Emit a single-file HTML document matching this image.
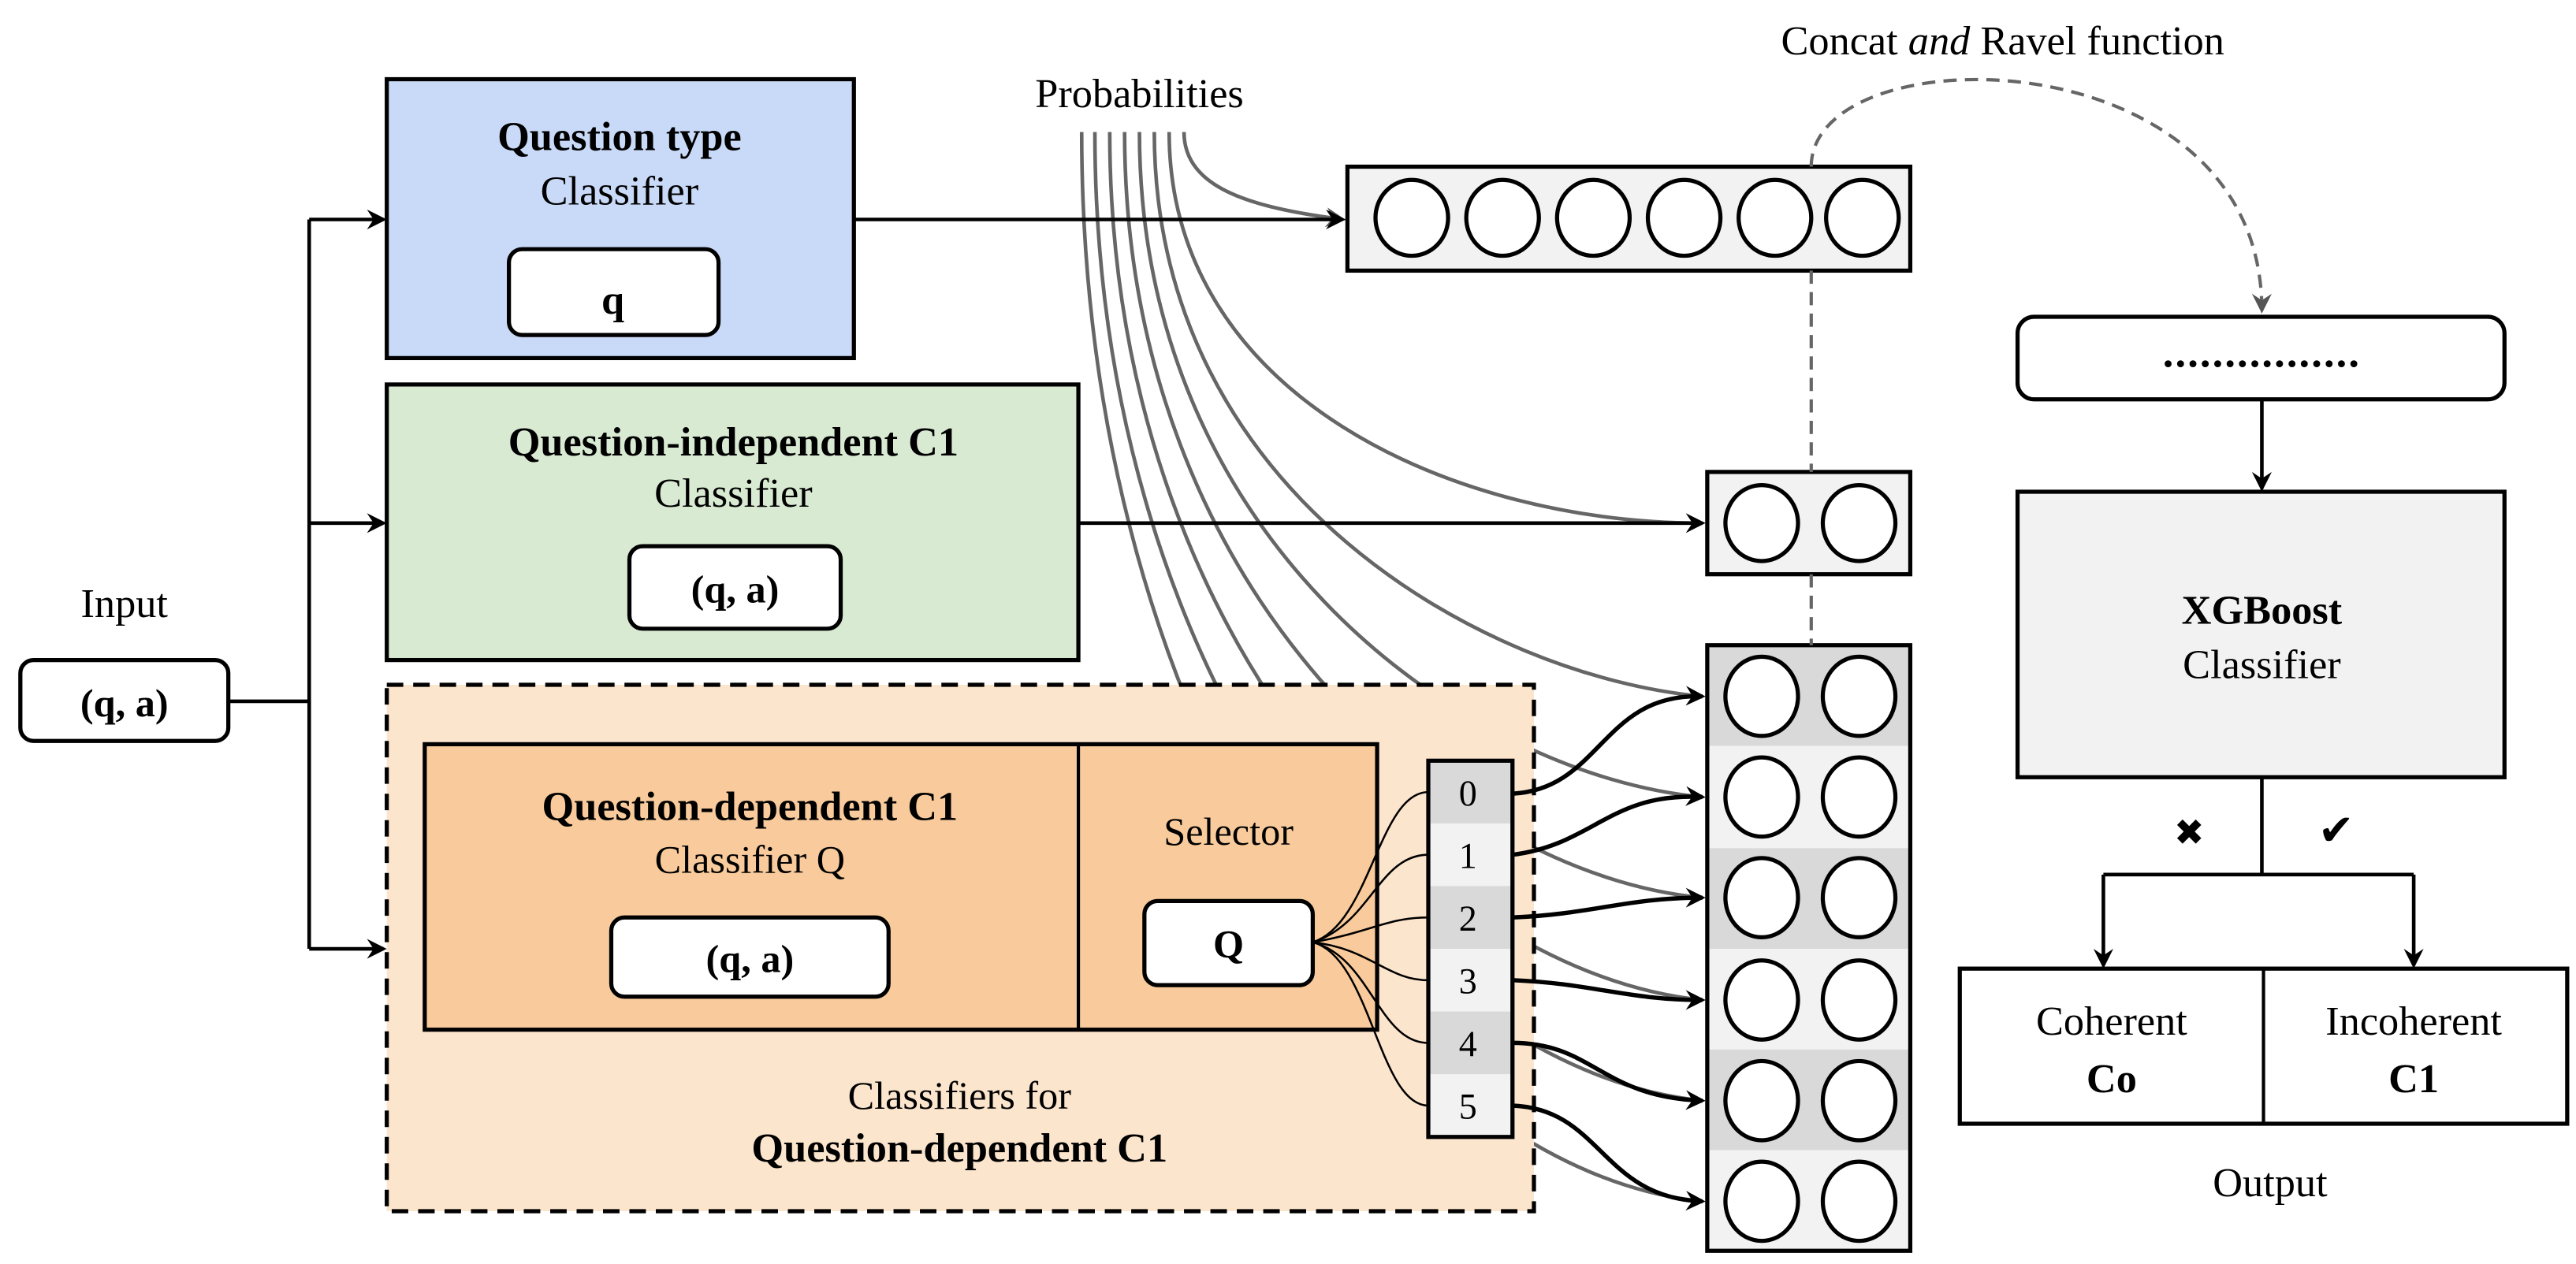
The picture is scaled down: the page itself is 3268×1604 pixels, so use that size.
<!DOCTYPE html>
<html><head><meta charset="utf-8"><style>
html,body{margin:0;padding:0;background:#fff;}
svg{display:block;}
text{font-family:"Liberation Serif",serif;}
</style></head><body>
<svg width="3268" height="1604" viewBox="0 0 1560 766" xmlns="http://www.w3.org/2000/svg">
<defs>
<marker id="ab" markerWidth="12" markerHeight="12" refX="10" refY="6" orient="auto" markerUnits="userSpaceOnUse">
<path d="M0,0 L12,6 L0,12 L4,6 Z" fill="#000"/></marker>
<marker id="ag" markerWidth="12" markerHeight="12" refX="10" refY="6" orient="auto" markerUnits="userSpaceOnUse">
<path d="M0,0 L12,6 L0,12 L4,6 Z" fill="#555"/></marker>
</defs>
<rect width="1560" height="766" fill="#fff"/>

<!-- gray probability curves -->
<g fill="none" stroke="#666" stroke-width="2.2">
<path d="M717 80 C717 115 760 126 813 133" marker-end="url(#ag)"/>
<path d="M708 80 C708 240 880 317 1031 317"/>
<path d="M699 80 C699 300 900 410 1031 422"/>
<path d="M690 80 C690 330 890 470 1031 483"/>
<path d="M681 80 C681 360 880 530 1031 544"/>
<path d="M672 80 C672 390 870 590 1031 606"/>
<path d="M663 80 C663 420 860 650 1031 667"/>
<path d="M655 80 C655 450 850 710 1031 728"/>
</g>

<text x="690" y="65" font-size="25" text-anchor="middle">Probabilities</text>
<text x="1213" y="33" font-size="25" text-anchor="middle">Concat <tspan font-style="italic">and</tspan> Ravel function</text>

<!-- input -->
<text x="75" y="374" font-size="25" text-anchor="middle">Input</text>
<rect x="12" y="400" width="126" height="49" rx="8" fill="#fff" stroke="#000" stroke-width="2.5"/>
<text x="75" y="434" font-size="24" font-weight="bold" text-anchor="middle">(q, a)</text>
<g stroke="#000" stroke-width="2.2" fill="none">
<path d="M138 425 H187"/>
<path d="M187 133 V575"/>
<path d="M187 133 H232" marker-end="url(#ab)"/>
<path d="M187 317 H232" marker-end="url(#ab)"/>
<path d="M187 575 H232" marker-end="url(#ab)"/>
</g>

<!-- question type -->
<rect x="234" y="48" width="283" height="169" fill="#c9daf8" stroke="#000" stroke-width="2.5"/>
<text x="375" y="91" font-size="25" font-weight="bold" text-anchor="middle">Question type</text>
<text x="375" y="124" font-size="25" text-anchor="middle">Classifier</text>
<rect x="308" y="151" width="127" height="52" rx="8" fill="#fff" stroke="#000" stroke-width="2.5"/>
<text x="371" y="190" font-size="25" font-weight="bold" text-anchor="middle">q</text>
<path d="M517 133 H813" stroke="#000" stroke-width="2.2" marker-end="url(#ab)"/>

<!-- green -->
<rect x="234" y="233" width="419" height="167" fill="#d9ead3" stroke="#000" stroke-width="2.5"/>
<text x="444" y="276" font-size="25" font-weight="bold" text-anchor="middle">Question-independent C1</text>
<text x="444" y="307" font-size="25" text-anchor="middle">Classifier</text>
<rect x="381" y="331" width="128" height="50" rx="8" fill="#fff" stroke="#000" stroke-width="2.5"/>
<text x="445" y="365" font-size="24" font-weight="bold" text-anchor="middle">(q, a)</text>
<path d="M653 317 H1031" stroke="#000" stroke-width="2.2" marker-end="url(#ab)"/>

<!-- dashed region -->
<rect x="234" y="415" width="695" height="319" fill="#fce5cd" stroke="#000" stroke-width="2.5" stroke-dasharray="10 6"/>
<rect x="257" y="451" width="577" height="173" fill="#f9cb9c" stroke="#000" stroke-width="2.5"/>
<path d="M653 451 V624" stroke="#000" stroke-width="2"/>
<text x="454" y="497" font-size="25" font-weight="bold" text-anchor="middle">Question-dependent C1</text>
<text x="454" y="529" font-size="24" text-anchor="middle">Classifier Q</text>
<rect x="370" y="556" width="168" height="48" rx="8" fill="#fff" stroke="#000" stroke-width="2.5"/>
<text x="454" y="589" font-size="24" font-weight="bold" text-anchor="middle">(q, a)</text>
<text x="744" y="512" font-size="24" text-anchor="middle">Selector</text>
<rect x="693" y="546" width="102" height="51" rx="8" fill="#fff" stroke="#000" stroke-width="2.5"/>
<text x="744" y="580" font-size="24" font-weight="bold" text-anchor="middle">Q</text>
<text x="581" y="672" font-size="24" text-anchor="middle">Classifiers for</text>
<text x="581" y="704" font-size="25" font-weight="bold" text-anchor="middle">Question-dependent C1</text>

<!-- index column -->
<g>
<rect x="865" y="461" width="51" height="38" fill="#d9d9d9"/>
<rect x="865" y="499" width="51" height="38" fill="#f2f2f2"/>
<rect x="865" y="537" width="51" height="38" fill="#d9d9d9"/>
<rect x="865" y="575" width="51" height="38" fill="#f2f2f2"/>
<rect x="865" y="613" width="51" height="38" fill="#d9d9d9"/>
<rect x="865" y="651" width="51" height="38" fill="#f2f2f2"/>
<rect x="865" y="461" width="51" height="228" fill="none" stroke="#000" stroke-width="2.5"/>
</g>
<g font-size="22" text-anchor="middle">
<text x="889" y="488">0</text><text x="889" y="526">1</text><text x="889" y="564">2</text>
<text x="889" y="602">3</text><text x="889" y="640">4</text><text x="889" y="678">5</text>
</g>
<g fill="none" stroke="#000" stroke-width="1.2">
<path d="M795 571 C830 560 835 480 865 480"/>
<path d="M795 571 C830 560 835 518 865 518"/>
<path d="M795 571 C830 565 840 556 865 556"/>
<path d="M795 571 C830 575 840 594 865 594"/>
<path d="M795 571 C830 580 835 632 865 632"/>
<path d="M795 571 C830 580 835 670 865 670"/>
</g>

<!-- big column -->
<g>
<rect x="1034" y="391" width="123" height="61" fill="#d9d9d9"/>
<rect x="1034" y="452" width="123" height="62" fill="#f2f2f2"/>
<rect x="1034" y="514" width="123" height="61" fill="#d9d9d9"/>
<rect x="1034" y="575" width="123" height="61" fill="#f2f2f2"/>
<rect x="1034" y="636" width="123" height="61" fill="#d9d9d9"/>
<rect x="1034" y="697" width="123" height="61" fill="#f2f2f2"/>
<rect x="1034" y="391" width="123" height="367" fill="none" stroke="#000" stroke-width="2.5"/>
</g>
<g fill="#fff" stroke="#000" stroke-width="2.5">
<ellipse cx="1067" cy="422" rx="22" ry="24"/><ellipse cx="1126" cy="422" rx="22" ry="24"/>
<ellipse cx="1067" cy="483" rx="22" ry="24"/><ellipse cx="1126" cy="483" rx="22" ry="24"/>
<ellipse cx="1067" cy="544" rx="22" ry="24"/><ellipse cx="1126" cy="544" rx="22" ry="24"/>
<ellipse cx="1067" cy="606" rx="22" ry="24"/><ellipse cx="1126" cy="606" rx="22" ry="24"/>
<ellipse cx="1067" cy="667" rx="22" ry="24"/><ellipse cx="1126" cy="667" rx="22" ry="24"/>
<ellipse cx="1067" cy="728" rx="22" ry="24"/><ellipse cx="1126" cy="728" rx="22" ry="24"/>
</g>
<g fill="none" stroke="#000" stroke-width="2.6">
<path d="M916 481 C970 478 970 420 1031 422" marker-end="url(#ab)"/>
<path d="M916 518 C965 512 975 480 1031 483" marker-end="url(#ab)"/>
<path d="M916 556 C965 554 985 544 1031 544" marker-end="url(#ab)"/>
<path d="M916 594 C965 596 985 606 1031 606" marker-end="url(#ab)"/>
<path d="M916 632 C965 632 970 665 1031 667" marker-end="url(#ab)"/>
<path d="M916 670 C970 672 970 726 1031 728" marker-end="url(#ab)"/>
</g>

<!-- top vector -->
<rect x="816" y="101" width="341" height="63" fill="#f2f2f2" stroke="#000" stroke-width="2.5"/>
<g fill="#fff" stroke="#000" stroke-width="2.5">
<ellipse cx="855" cy="132" rx="22" ry="23"/><ellipse cx="910" cy="132" rx="22" ry="23"/>
<ellipse cx="965" cy="132" rx="22" ry="23"/><ellipse cx="1020" cy="132" rx="22" ry="23"/>
<ellipse cx="1075" cy="132" rx="22" ry="23"/><ellipse cx="1128" cy="132" rx="22" ry="23"/>
</g>
<!-- middle vector -->
<rect x="1034" y="286" width="123" height="62" fill="#f2f2f2" stroke="#000" stroke-width="2.5"/>
<g fill="#fff" stroke="#000" stroke-width="2.5">
<ellipse cx="1067" cy="317" rx="22" ry="23"/><ellipse cx="1126" cy="317" rx="22" ry="23"/>
</g>
<g fill="none" stroke="#666" stroke-width="2" stroke-dasharray="8 5">
<path d="M1097 164 V286"/><path d="M1097 348 V391"/>
<path d="M1097 101 C1097 20 1370 20 1370 188" marker-end="url(#ag)"/>
</g>

<!-- right side -->
<rect x="1222" y="192" width="295" height="50" rx="10" fill="#fff" stroke="#000" stroke-width="2.5"/>
<text x="1370" y="222" font-size="26" font-weight="bold" text-anchor="middle" letter-spacing="1">................</text>
<path d="M1370 242 V296" stroke="#000" stroke-width="2.2" marker-end="url(#ab)"/>
<rect x="1222" y="298" width="295" height="173" fill="#f2f2f2" stroke="#000" stroke-width="2.5"/>
<text x="1370" y="378" font-size="25" font-weight="bold" text-anchor="middle">XGBoost</text>
<text x="1370" y="411" font-size="25" text-anchor="middle">Classifier</text>
<g stroke="#000" stroke-width="2.2" fill="none">
<path d="M1370 471 V530"/><path d="M1274 530 H1462"/>
<path d="M1274 530 V585" marker-end="url(#ab)"/>
<path d="M1462 530 V585" marker-end="url(#ab)"/>
</g>
<text x="1326" y="512" font-size="22" text-anchor="middle" font-family="DejaVu Sans">✖</text>
<text x="1415" y="512" font-size="26" text-anchor="middle" font-family="DejaVu Sans">✔</text>
<rect x="1187" y="587" width="368" height="94" fill="#fff" stroke="#000" stroke-width="2.5"/>
<path d="M1371 587 V681" stroke="#000" stroke-width="2"/>
<text x="1279" y="627" font-size="25" text-anchor="middle">Coherent</text>
<text x="1279" y="662" font-size="25" font-weight="bold" text-anchor="middle">Co</text>
<text x="1462" y="627" font-size="25" text-anchor="middle">Incoherent</text>
<text x="1462" y="662" font-size="25" font-weight="bold" text-anchor="middle">C1</text>
<text x="1375" y="725" font-size="25" text-anchor="middle">Output</text>
</svg>
</body></html>
